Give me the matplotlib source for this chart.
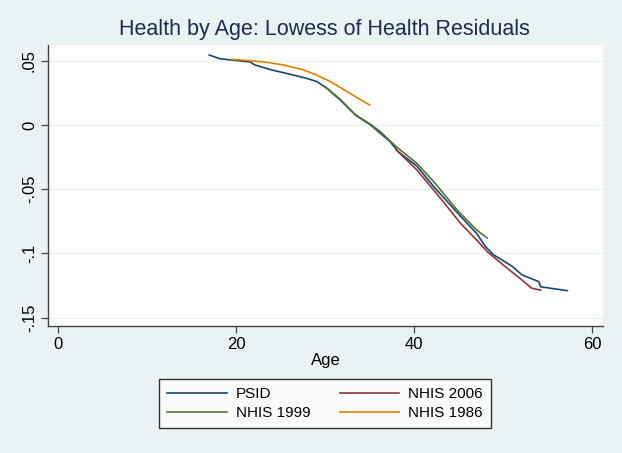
import matplotlib
matplotlib.use('Agg')
import matplotlib.pyplot as plt

# data (age, lowess of health residuals)
psid_age = [17.0, 18.2, 19.5, 21.6, 22.1, 24.0, 26.1, 27.9, 29.1, 30.2, 31.7,
            33.4, 35.1, 36.2, 37.3, 38.2, 40.3, 42.2, 45.2, 47.0, 48.0, 48.9,
            51.0, 52.1, 54.0, 54.2, 57.2]
psid_val = [.0544, .0515, .0505, .0490, .0467, .0428, .0394, .0363, .0337,
            .0285, .0194, .0077, .0000, -.0065, -.0130, -.0208, -.0320,
            -.0480, -.0710, -.0843, -.0946, -.1010, -.1100, -.1167, -.1220,
            -.1260, -.1290]

nhis99_age = [30.0, 31.7, 33.4, 35.1, 36.2, 38.0, 40.3, 42.2, 44.8, 47.0, 48.2]
nhis99_val = [.0298, .0200, .0080, .0005, -.0052, -.0170, -.0298, -.0442,
              -.0660, -.0817, -.0880]

nhis06_age = [38.0, 40.3, 42.5, 45.2, 47.0, 48.2, 50.0, 52.1, 53.2, 54.2]
nhis06_val = [-.0195, -.0350, -.0532, -.0765, -.0895, -.0986, -.1090,
              -.1207, -.1271, -.1286]

nhis86_age = [19.5, 21.6, 23.5, 25.3, 27.5, 29.0, 30.6, 32.8, 35.0]
nhis86_val = [.0510, .0500, .0487, .0467, .0430, .0390, .0337, .0246, .0155]

x_ticks = [0, 20, 40, 60]
y_ticks = [.05, 0, -.05, -.1, -.15]
y_labels = ['.05', '0', '-.05', '-.1', '-.15']

bg = '#EAF2F3'
navy = '#1a476f'
maroon = '#90353b'
green = '#55752f'
orange = '#e37e00'

plt.rcParams['font.family'] = ['Liberation Sans', 'DejaVu Sans']

fig = plt.figure(figsize=(6.22, 4.53), dpi=100, facecolor=bg)
ax = fig.add_axes([48 / 622, 1 - 326 / 453, 555 / 622, 281 / 453])
ax.set_facecolor('white')

lw = 1.2
l1, = ax.plot(psid_age, psid_val, color=navy, lw=lw, label='PSID')
l2, = ax.plot(nhis99_age, nhis99_val, color=green, lw=lw, label='NHIS 1999')
l3, = ax.plot(nhis06_age, nhis06_val, color=maroon, lw=lw, label='NHIS 2006')
l4, = ax.plot(nhis86_age, nhis86_val, color=orange, lw=lw, label='NHIS 1986')

ax.set_xlim(-1.1, 61.2)
ax.set_ylim(-.1565, .0622)
ax.set_xticks(x_ticks)
ax.set_yticks(y_ticks)
ax.set_yticklabels(y_labels, rotation=90, va='center')
ax.tick_params(axis='both', labelsize=12, length=5, color='#444444',
               width=0.9, pad=3)
ax.grid(axis='y', color=bg, lw=1.0)
ax.set_axisbelow(True)

for side in ('top', 'right'):
    ax.spines[side].set_visible(False)
for side in ('left', 'bottom'):
    ax.spines[side].set_color('#444444')
    ax.spines[side].set_linewidth(1.0)

ax.set_xlabel('Age', fontsize=12, labelpad=1)
fig.text(324 / 622, 1 - 30 / 453, 'Health by Age: Lowess of Health Residuals',
         ha='center', va='center', fontsize=15.5, color='#1c2d4f')

leg = fig.legend(handles=[l1, l2, l3, l4], ncol=2, loc='center',
                 bbox_to_anchor=(325 / 622, 1 - 403.5 / 453), fontsize=11,
                 frameon=True, fancybox=False, edgecolor='black',
                 handlelength=3.9, columnspacing=1.9, handletextpad=0.6,
                 borderpad=0.52, labelspacing=0.32)
leg.get_frame().set_linewidth(1.0)
leg.get_frame().set_facecolor('white')

fig.savefig('out.png', dpi=100, facecolor=bg)
